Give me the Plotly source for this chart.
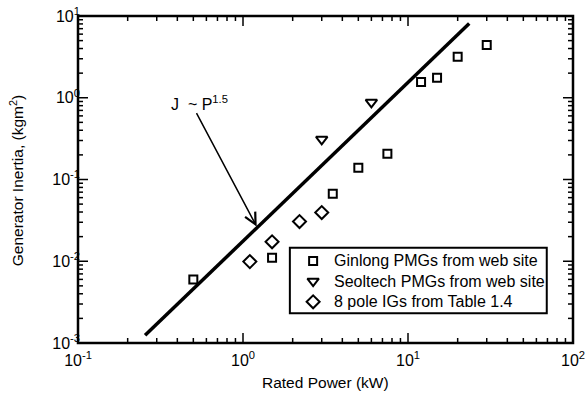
import plotly.graph_objects as go

# Rated power (kW) and generator inertia (kg m^2)
ginlong_p = [0.5, 1.5, 3.5, 5, 7.5, 12, 15, 20, 30]
ginlong_j = [0.006, 0.011, 0.067, 0.139, 0.207, 1.56, 1.76, 3.18, 4.42]

seoltech_p = [3.0, 6.0]
seoltech_j = [0.31, 0.88]

ig_p = [1.1, 1.5, 2.2, 3.0]
ig_j = [0.0099, 0.0173, 0.0306, 0.0394]

# Trend line end points
trend_p = [0.255, 23.5]
trend_j = [0.00124, 8.1]

series_names = ["Ginlong PMGs from web site", "Seoltech PMGs from web site", "8 pole IGs from Table 1.4"]

x_tickvals = [0.1, 1, 10, 100]
x_ticktext = ["10<sup>-1</sup>", "10<sup>0</sup>", "10<sup>1</sup>", "10<sup>2</sup>"]
y_tickvals = [0.001, 0.01, 0.1, 1, 10]
y_ticktext = ["10<sup>-3</sup>", "10<sup>-2</sup>", "10<sup>-1</sup>", "10<sup>0</sup>", "10<sup>1</sup>"]

X_RANGE = [-1, 2]   # log10 kW
Y_RANGE = [-3, 1]   # log10 kg m^2

# Minor ticks at 2..9 within each decade
x_minor = [m * 10.0 ** e for e in range(-1, 2) for m in range(2, 10)]
y_minor = [m * 10.0 ** e for e in range(-3, 1) for m in range(2, 10)]

W, H = 588, 395
MARGIN = dict(l=78, r=15, t=16, b=52)
PLOT_W = W - MARGIN["l"] - MARGIN["r"]
PLOT_H = H - MARGIN["t"] - MARGIN["b"]
PX_PER_DEC_X = PLOT_W / (X_RANGE[1] - X_RANGE[0])
PX_PER_DEC_Y = PLOT_H / (Y_RANGE[1] - Y_RANGE[0])

FONT = "Liberation Sans, Arial, Helvetica, sans-serif"
BLACK = "black"

marker_styles = [
    dict(symbol="square-open", size=8, color=BLACK, line=dict(width=2, color=BLACK)),
    dict(symbol="triangle-down-open", size=10, color=BLACK, line=dict(width=2, color=BLACK)),
    dict(symbol="diamond-open", size=10, color=BLACK, line=dict(width=2, color=BLACK)),
]


def frac_to_log_x(f):
    """Plot-area fraction -> value on the log x axis."""
    return 10 ** (X_RANGE[0] + f * (X_RANGE[1] - X_RANGE[0]))


def frac_to_log_y(f):
    """Plot-area fraction -> value on the log y axis."""
    return 10 ** (Y_RANGE[0] + f * (Y_RANGE[1] - Y_RANGE[0]))


def tick_segments(xvals, yvals, length_px):
    """Inward tick marks on all four sides of the frame, as line segments."""
    xs, ys = [], []
    dy = 10 ** (length_px / PX_PER_DEC_Y)
    dx = 10 ** (length_px / PX_PER_DEC_X)
    ybot, ytop = 10 ** Y_RANGE[0], 10 ** Y_RANGE[1]
    xlft, xrgt = 10 ** X_RANGE[0], 10 ** X_RANGE[1]
    for v in xvals:
        xs += [v, v, None, v, v, None]
        ys += [ybot, ybot * dy, None, ytop, ytop / dy, None]
    for v in yvals:
        xs += [xlft, xlft * dx, None, xrgt, xrgt / dx, None]
        ys += [v, v, None, v, v, None]
    return xs, ys


fig = go.Figure()

# Tick marks (major and minor)
for xv, yv, ln in [(x_tickvals, y_tickvals, 10), (x_minor, y_minor, 5)]:
    tx, ty = tick_segments(xv, yv, ln)
    fig.add_trace(go.Scatter(
        x=tx, y=ty, mode="lines", line=dict(color=BLACK, width=1.5),
        showlegend=False, hoverinfo="skip",
    ))

fig.add_trace(go.Scatter(
    x=trend_p, y=trend_j, mode="lines",
    line=dict(color=BLACK, width=3.5), showlegend=False, hoverinfo="skip",
))
for xs, ys, name, mk in zip([ginlong_p, seoltech_p, ig_p], [ginlong_j, seoltech_j, ig_j],
                            series_names, marker_styles):
    fig.add_trace(go.Scatter(x=xs, y=ys, mode="markers", name=name, marker=mk, showlegend=False))

# Legend box with its key symbols and labels
leg_left, leg_right, leg_top, leg_bottom = 0.428, 0.947, 0.291, 0.091
leg_sym_x, leg_text_x = 0.475, 0.513
leg_rows = [0.251, 0.189, 0.126]

for row_y, name, mk in zip(leg_rows, series_names, marker_styles):
    fig.add_trace(go.Scatter(
        x=[frac_to_log_x(leg_sym_x)], y=[frac_to_log_y(row_y)], mode="markers",
        marker=mk, showlegend=False, hoverinfo="skip",
    ))
    fig.add_annotation(
        x=leg_text_x, y=row_y, xref="paper", yref="paper", text=name, showarrow=False,
        xanchor="left", yanchor="middle", font=dict(family=FONT, size=16, color=BLACK),
    )
fig.add_shape(
    type="rect", xref="paper", yref="paper",
    x0=leg_left, x1=leg_right, y0=leg_bottom, y1=leg_top,
    line=dict(color=BLACK, width=2), fillcolor="rgba(0,0,0,0)", layer="above",
)

# Plot frame
fig.add_shape(
    type="rect", xref="paper", yref="paper", x0=0, x1=1, y0=0, y1=1,
    line=dict(color=BLACK, width=2.5), fillcolor="rgba(0,0,0,0)", layer="above",
)

axis_common = dict(
    type="log", automargin=False, showline=False, ticks="",
    showgrid=False, zeroline=False, tickmode="array",
    tickfont=dict(family=FONT, size=16, color=BLACK),
)
fig.update_xaxes(**axis_common, range=X_RANGE, tickvals=x_tickvals, ticktext=x_ticktext,
                 ticklabelstandoff=6)
fig.update_yaxes(**axis_common, range=Y_RANGE, tickvals=y_tickvals, ticktext=y_ticktext,
                 ticklabelstandoff=-3)

# Axis titles
fig.add_annotation(
    x=0.5, y=-0.122, xref="paper", yref="paper", text="Rated Power (kW)", showarrow=False,
    xanchor="center", yanchor="middle", font=dict(family=FONT, size=15.5, color=BLACK),
)
fig.add_annotation(
    x=-0.123, y=0.495, xref="paper", yref="paper", text="Generator Inertia, (kgm<sup>2</sup>)",
    showarrow=False, textangle=-90, xanchor="center", yanchor="middle",
    font=dict(family=FONT, size=15.5, color=BLACK),
)

# Arrow pointing at the trend line, with its label
fig.add_annotation(
    x=0.083, y=-1.576, xref="x", yref="y",
    ax=-61, ay=-115, axref="pixel", ayref="pixel",
    showarrow=True, arrowhead=5, arrowsize=1.5, arrowwidth=1.5, arrowcolor=BLACK,
    text="",
)
fig.add_annotation(
    x=-0.265, y=-0.07, xref="x", yref="y",
    text="J  ~ P<sup>1.5</sup>", showarrow=False,
    font=dict(family=FONT, size=16, color=BLACK),
    xanchor="center", yanchor="middle",
)

fig.update_layout(
    width=W, height=H,
    margin=MARGIN,
    paper_bgcolor="white", plot_bgcolor="white",
    font=dict(family=FONT, color=BLACK),
    showlegend=False,
)

fig.write_html("out.html")
